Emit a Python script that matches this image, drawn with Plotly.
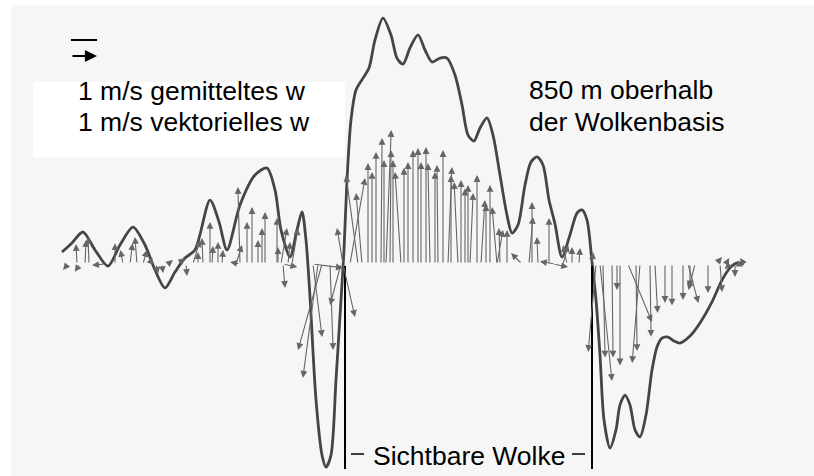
import plotly.graph_objects as go

# ---- data -------------------------------------------------------------
# averaged vertical wind w (m/s) along the flight track (position units)
curve_x = [62, 72, 83, 95, 108, 120, 133, 145, 155, 165, 175, 185, 195, 210, 219, 227,
           240, 255, 267, 275, 281, 290, 297, 302, 306, 310, 316, 322, 326, 331, 336, 341,
           344, 347, 351, 356, 363, 369, 375, 383, 391, 397, 403, 410, 418, 425, 432, 440,
           447, 455, 462, 468, 474, 480, 487, 493, 500, 507, 512, 518, 525, 531, 537, 543,
           549, 555, 562, 570, 577, 582, 587, 592, 596, 600, 604, 610, 616, 620, 625, 630,
           635, 640, 646, 652, 657, 662, 668, 674, 680, 690, 700, 712, 722, 730, 737, 744]
curve_w = [0.46, 0.81, 1.23, 0.54, -0.08, 0.73, 1.42, 0.73, -0.23, -0.92, -0.31, 0.23, 0.54, 2.46, 1.62, 0.54,
           2.27, 3.42, 3.69, 2.85, 1.31, 0.27, 1.31, 2.0, 0.92, -1.27, -5.23, -7.35, -7.81, -7.35, -4.46, -1.38,
           0.54, 3.23, 5.54, 6.69, 7.15, 7.54, 8.62, 9.46, 8.81, 7.92, 7.69, 8.31, 8.81, 8.23, 7.77, 7.92,
           7.92, 7.27, 6.12, 4.96, 4.73, 5.23, 5.62, 4.96, 3.42, 1.88, 1.19, 1.5, 3.04, 3.92, 4.12, 3.81,
           2.46, 1.54, 0.27, 1.12, 1.96, 2.08, 1.69, 0.08, -1.38, -3.5, -6.0, -7.08, -6.38, -5.42, -5.04, -5.42,
           -6.38, -6.65, -5.81, -4.08, -3.19, -2.85, -2.81, -2.96, -3.04, -2.77, -2.27, -1.46, -0.62, -0.15, 0.04, 0.0]

# vector wind: base position, horizontal component u (m/s), vertical component w (m/s)
arrow_x = [68, 77, 80, 85, 89, 105, 115, 123, 130, 137, 143, 150, 156, 162, 168, 178, 186, 193,
           198, 203, 210, 212, 218, 222, 240, 240, 236, 247, 252, 258, 262, 265, 277, 278, 281, 283, 283, 288, 292,
           313, 322, 318, 313, 330, 341, 343, 343,
           358, 362, 350, 368, 372, 376, 381, 384, 386, 390, 393, 401, 404, 408, 413, 418, 421, 426, 430,
           435, 438, 443, 448, 451, 458, 461, 465, 468, 470, 477, 481, 486, 490, 497, 500, 497, 507, 522,
           532, 529, 538, 549, 555, 553, 567, 563, 572, 579, 592,
           596, 603, 600, 612, 617, 620, 640, 636, 628, 650, 655, 665, 672, 683, 690, 688, 695, 708, 720,
           735, 716, 726, 738, 744, 730]
arrow_u = [-0.19, -0.04, -0.2, 0.04, -0.04, -0.5, 0.0, -0.1, 0.1, -0.08, 0.15, 0.08, 0.08, 0.04, 0.19, 0.27, 0.04, 0.27,
           0.0, -0.04, 0.0, 0.04, 0.0, 0.04, -0.38, -0.08, 0.23, 0.0, 0.0, 0.0, 0.0, 0.0, 0.0, 0.0, 0.23, 0.08, 0.55, 0.08, 0.23,
           1.15, -0.92, -0.58, 0.35, 0.12, -0.42, 0.46, -0.23,
           -0.46, -0.23, 0.58, 0.0, 0.0, 0.0, 0.04, 0.0, 0.2, 0.04, 0.0, -0.23, 0.0, 0.0, 0.0, 0.0, 0.0, 0.0, -0.08,
           0.0, -0.04, 0.0, 0.15, 0.0, -0.15, 0.0, 0.0, 0.0, 0.12, 0.0, 0.15, 0.0, 0.0, -0.19, -0.04, 0.23, 0.0, -0.42,
           0.0, 0.15, -0.04, 0.0, -0.58, 0.58, -0.15, 0.2, 0.0, 0.04, 0.04,
           -0.3, 0.08, 0.46, 0.04, 0.0, 0.0, -0.3, 0.04, 0.92, 0.04, 0.1, 0.0, 0.0, 0.0, 0.0, 0.4, -0.25, 0.0, 0.08,
           0.0, 0.23, 0.12, 0.2, -0.15, -0.2]
arrow_w = [-0.23, 0.77, -0.3, 0.92, 1.04, -0.05, 0.8, 0.54, 0.8, 1.04, 0.54, 0.27, -0.38, -0.35, 0.15, 0.23, -0.46, 0.92,
           0.46, 1.0, 1.62, 0.69, 0.85, 0.54, 0.08, 2.96, 0.73, 1.62, 2.19, 0.92, 1.38, 2.0, 1.77, 0.65, 1.38, -0.92, -0.12, 0.85, 1.38,
           -0.15, -3.31, -4.38, -2.81, -3.31, -1.58, -2.04, 1.38,
           3.42, 2.73, 3.31, 3.88, 3.54, 4.31, 4.85, 4.0, 5.15, 4.38, 4.0, 3.54, 3.7, 3.92, 4.38, 4.46, 3.92, 4.5, 3.88,
           3.54, 3.81, 4.38, 3.73, 3.42, 3.15, 3.23, 2.9, 3.04, 2.73, 3.42, 2.46, 2.3, 3.04, 2.19, 1.38, 1.31, 1.31, 0.42,
           2.38, 1.81, 1.04, 1.77, 0.1, -0.12, 0.73, 0.73, 0.65, 0.62, 0.46,
           -3.38, -3.6, -4.5, -3.6, -1.0, -3.9, -3.81, -3.35, -2.23, -2.8, -1.88, -1.5, -1.6, -1.38, -0.9, -1.5, -1.0, -1.12, -1.08,
           -0.5, 0.27, 0.23, -0.1, 0.23, -0.2]

cloud_edges = [345, 592]
legend_lines = ["1 m/s gemitteltes w", "1 m/s vektorielles w"]
height_lines = ["850 m oberhalb", "der Wolkenbasis"]
cloud_label = "Sichtbare Wolke"

# ---- style --------------------------------------------------------------
W, H = 814, 476
PX_PER_MS = 26.0            # drawing scale: position units per 1 m/s
Y_TOP = 264 / PX_PER_MS
Y_BOT = -(H - 264) / PX_PER_MS
FONT = "Liberation Sans, Arial, Helvetica, sans-serif"
ARROW_COL = "#666666"
CURVE_COL = "#454545"

fig = go.Figure()

fig.add_trace(go.Scatter(x=curve_x, y=curve_w, mode="lines",
                         line=dict(color=CURVE_COL, width=2.8, shape="spline", smoothing=0.8),
                         hoverinfo="skip", showlegend=False))

annotations = []
for bx, u, w in zip(arrow_x, arrow_u, arrow_w):
    annotations.append(dict(x=bx + u * PX_PER_MS, y=w, ax=bx, ay=0,
                            xref="x", yref="y", axref="x", ayref="y",
                            showarrow=True, arrowhead=2, arrowsize=1.25, arrowwidth=1.1,
                            arrowcolor=ARROW_COL, standoff=0, startstandoff=0, text=""))

# legend glyphs
annotations.append(dict(x=97, y=(264 - 56) / PX_PER_MS, ax=71, ay=(264 - 56) / PX_PER_MS,
                        xref="x", yref="y", axref="x", ayref="y", showarrow=True,
                        arrowhead=2, arrowsize=1.1, arrowwidth=2.2, arrowcolor="black", text=""))

txt = dict(xref="x", yref="y", showarrow=False, font=dict(family=FONT, size=26.5, color="black"))
annotations.append(dict(x=76, y=(264 - 91) / PX_PER_MS, text=legend_lines[0], xanchor="left", yanchor="middle", **txt))
annotations.append(dict(x=76, y=(264 - 122) / PX_PER_MS, text=legend_lines[1], xanchor="left", yanchor="middle", **txt))
annotations.append(dict(x=527, y=(264 - 90) / PX_PER_MS, text=height_lines[0], xanchor="left", yanchor="middle", **txt))
annotations.append(dict(x=527, y=(264 - 122) / PX_PER_MS, text=height_lines[1], xanchor="left", yanchor="middle", **txt))
annotations.append(dict(x=469, y=(264 - 456) / PX_PER_MS, text=cloud_label, xanchor="center", yanchor="middle", **txt))

shapes = [
    # scanned paper tone
    dict(type="rect", xref="x", yref="y", x0=11, x1=W, y0=Y_BOT, y1=(264 - 5) / PX_PER_MS,
         fillcolor="#f6f6f6", line=dict(width=0), layer="below"),
    dict(type="rect", xref="x", yref="y", x0=33, x1=345, y0=(264 - 157) / PX_PER_MS, y1=(264 - 82) / PX_PER_MS,
         fillcolor="#ffffff", line=dict(width=0), layer="below"),
    # legend line glyph
    dict(type="line", xref="x", yref="y", x0=71, x1=97, y0=(264 - 40) / PX_PER_MS, y1=(264 - 40) / PX_PER_MS,
         line=dict(color="black", width=2)),
]
for ex in cloud_edges:
    shapes.append(dict(type="line", xref="x", yref="y", x0=ex, x1=ex, y0=-0.08, y1=(264 - 469) / PX_PER_MS,
                       line=dict(color="black", width=2)))
shapes.append(dict(type="line", xref="x", yref="y", x0=351, x1=364, y0=(264 - 454) / PX_PER_MS,
                   y1=(264 - 454) / PX_PER_MS, line=dict(color="black", width=1.5)))
shapes.append(dict(type="line", xref="x", yref="y", x0=572, x1=585, y0=(264 - 454) / PX_PER_MS,
                   y1=(264 - 454) / PX_PER_MS, line=dict(color="black", width=1.5)))

fig.update_layout(
    width=W, height=H, margin=dict(l=0, r=0, t=0, b=0),
    paper_bgcolor="white", plot_bgcolor="rgba(0,0,0,0)",
    xaxis=dict(range=[0, W], visible=False, fixedrange=True),
    yaxis=dict(range=[Y_BOT, Y_TOP], visible=False, fixedrange=True),
    annotations=annotations, shapes=shapes, showlegend=False,
)

fig.write_html("out.html")
